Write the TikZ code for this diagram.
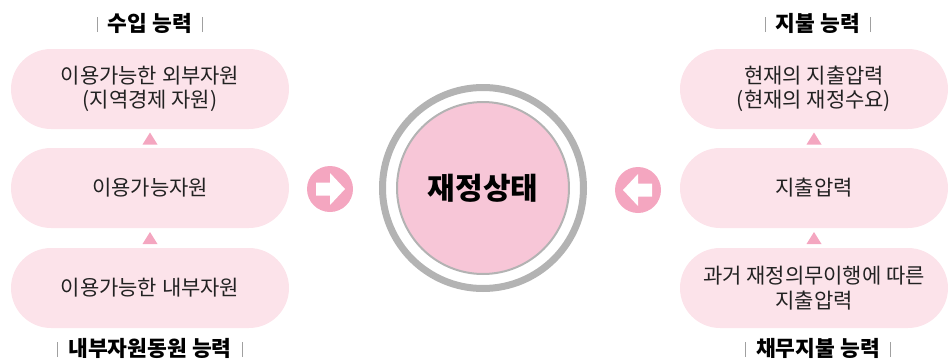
\documentclass[tikz,border=0pt]{standalone}
\usepackage{fontspec}
\setmainfont{Noto Sans CJK KR}
\usetikzlibrary{calc}
\definecolor{pillfill}{HTML}{FCE3EA}
\definecolor{accent}{HTML}{F4A6C0}
\definecolor{corefill}{HTML}{F7C6D7}
\definecolor{ringgray}{HTML}{B3B3B3}
\definecolor{bargray}{HTML}{A0A0A0}
\definecolor{txt}{HTML}{222222}
\tikzset{
  pill/.style={fill=pillfill, rounded corners=40pt, minimum height=80pt, inner sep=0pt,
    align=center, text=txt, font=\fontsize{21}{24.5}\selectfont},
  lpill/.style={pill, minimum width=278pt},
  rpill/.style={pill, minimum width=268pt},
  header/.style={font=\fontsize{21.5}{24}\selectfont\bfseries, text=black, inner sep=0pt, anchor=base},
  arrowdisc/.style={circle, fill=accent, minimum size=46pt, inner sep=0pt},
  ring/.style={circle, draw=ringgray, line width=7pt, minimum size=201pt, inner sep=0pt},
  core/.style={circle, fill=corefill, draw=ringgray, line width=2pt, minimum size=172pt, inner sep=0pt,
    font=\fontsize{30}{32}\selectfont\bfseries, text=black},
}
\newcommand{\sepbar}{\textcolor{bargray}{\rule[-1pt]{1pt}{15pt}}}
\newcommand{\headtext}[1]{\sepbar\hspace{10pt}#1\hspace{10pt}\sepbar}
\newcommand{\uptri}[1]{\fill[accent] ($#1+(-7.5,6)$) -- ($#1+(7.5,6)$) -- ($#1+(0,-6)$) -- cycle;}
\begin{document}
\begin{tikzpicture}[x=1pt,y=-1pt]
\useasboundingbox (0,0) rectangle (951,362);
% left column
\node[header] (hl) at (150,31) {\headtext{수입 능력}};
\node[lpill] (l1) at (150,89) {이용가능한 외부자원\\(지역경제 자원)};
\node[lpill] (l2) at (150,188) {이용가능자원};
\node[lpill] (l3) at (150,288) {이용가능한 내부자원};
\node[header] (bl) at (150,356) {\headtext{내부자원동원 능력}};
\coordinate (t1) at ($(l1.south)!0.5!(l2.north)$);
\coordinate (t2) at ($(l2.south)!0.5!(l3.north)$);
\uptri{(t1)}
\uptri{(t2)}
% right column
\node[header] (hr) at (818,31) {\headtext{지불 능력}};
\node[rpill] (r1) at (814,89) {현재의 지출압력\\(현재의 재정수요)};
\node[rpill] (r2) at (814,188) {지출압력};
\node[rpill] (r3) at (814,288) {과거 재정의무이행에 따른\\지출압력};
\node[header] (br) at (818,356) {\headtext{채무지불 능력}};
\coordinate (t3) at ($(r1.south)!0.5!(r2.north)$);
\coordinate (t4) at ($(r2.south)!0.5!(r3.north)$);
\uptri{(t3)}
\uptri{(t4)}
% center
\node[ring] (ring) at (483,188) {};
\node[core] (c) at (483,188) {재정상태};
% arrow discs
\node[arrowdisc] (al) at (330,189) {};
\node[arrowdisc] (ar) at (638,190) {};
\fill[white] ($(al)+(-14,-6.5)$) -- ($(al)+(0,-6.5)$) -- ($(al)+(0,-16)$) -- ($(al)+(15,0)$)
  -- ($(al)+(0,16)$) -- ($(al)+(0,6.5)$) -- ($(al)+(-14,6.5)$) -- cycle;
\fill[white] ($(ar)+(14,-6.5)$) -- ($(ar)+(0,-6.5)$) -- ($(ar)+(0,-16)$) -- ($(ar)+(-15,0)$)
  -- ($(ar)+(0,16)$) -- ($(ar)+(0,6.5)$) -- ($(ar)+(14,6.5)$) -- cycle;
\end{tikzpicture}
\end{document}
